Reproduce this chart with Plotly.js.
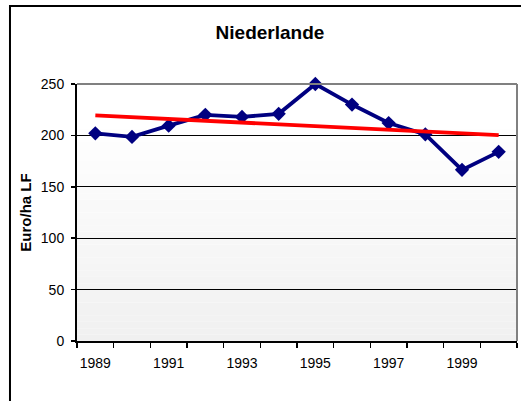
<!DOCTYPE html>
<html>
<head>
<meta charset="utf-8">
<script src="https://cdn.plot.ly/plotly-3.0.1.min.js"></script>
<style>
  html, body { margin: 0; padding: 0; background: #ffffff; }
  #chart { width: 521px; height: 401px; }
</style>
</head>
<body>
<div id="chart"></div>
<script>
// ---- data ----
var years = [1989, 1990, 1991, 1992, 1993, 1994, 1995, 1996, 1997, 1998, 1999, 2000];
var values = [202, 198.5, 209.5, 220, 218, 221, 250, 230, 212, 201, 166.5, 184];
var trendYears = [1989, 2000];
var trendValues = [219.5, 200.2];
var xTickLabels = ["1989", "1991", "1993", "1995", "1997", "1999"];
var xTickYears = [1989, 1991, 1993, 1995, 1997, 1999];
var chartTitle = "Niederlande";
var yTitle = "Euro/ha LF";

// ---- background gradient strips (plot area) ----
var shapes = [];
var nStrips = 40;
for (var i = 0; i < nStrips; i++) {
  var t = (i + 0.5) / nStrips; // 0 bottom, 1 top
  var g = Math.round(240 + 15 * Math.min(1, t / 0.85));
  shapes.push({
    type: 'rect', xref: 'x domain', yref: 'y domain',
    x0: 0, x1: 1, y0: i / nStrips, y1: (i + 1) / nStrips,
    fillcolor: 'rgb(' + g + ',' + g + ',' + g + ')',
    line: { width: 0 }, layer: 'below'
  });
}
// plot-area top & right border (gray)
shapes.push({ type: 'line', xref: 'paper', yref: 'paper', x0: 0, x1: 1, y0: 1, y1: 1,
  line: { color: '#808080', width: 2 }, layer: 'above' });
shapes.push({ type: 'line', xref: 'paper', yref: 'paper', x0: 1, x1: 1, y0: 0, y1: 1,
  line: { color: '#808080', width: 2 }, layer: 'above' });
// chart-area outer border (black)
shapes.push({ type: 'rect', xref: 'paper', yref: 'paper',
  x0: -0.1523, x1: 1.3, y0: -0.5, y1: 1.3035,
  line: { color: '#000000', width: 2 }, fillcolor: 'rgba(0,0,0,0)', layer: 'above' });

var traces = [
  {
    x: years, y: values, type: 'scatter', mode: 'lines+markers',
    line: { color: '#000080', width: 3.8 },
    marker: { symbol: 'diamond', size: 11, color: '#000080' },
    hoverinfo: 'x+y', showlegend: false, cliponaxis: false
  },
  {
    x: trendYears, y: trendValues, type: 'scatter', mode: 'lines',
    line: { color: '#ff0000', width: 3.8 },
    hoverinfo: 'skip', showlegend: false
  }
];

var layout = {
  width: 521, height: 401,
  margin: { l: 77, r: 4, t: 84, b: 60, pad: 0 },
  paper_bgcolor: '#ffffff',
  plot_bgcolor: 'rgba(0,0,0,0)',
  font: { family: 'Liberation Sans, Arial, sans-serif', size: 14, color: '#000000' },
  title: {
    text: '<b>' + chartTitle + '</b>',
    font: { family: 'Liberation Sans, Arial, sans-serif', size: 19, color: '#000000' },
    xref: 'paper', x: 0.4386, xanchor: 'center',
    yref: 'container', y: 1 - 32 / 401, yanchor: 'middle'
  },
  xaxis: {
    range: [1988.5, 2000.5],
    tickmode: 'array', tickvals: xTickYears, ticktext: xTickLabels,
    ticks: '', showgrid: false, zeroline: false,
    showline: true, linecolor: '#000000', linewidth: 2,
    ticklabelstandoff: 8,
    tickfont: { size: 14, color: '#000000' },
    minor: { tick0: 1988.5, dtick: 1, ticks: 'outside', ticklen: 5, tickwidth: 1.5,
             tickcolor: '#000000', showgrid: false },
    fixedrange: true
  },
  yaxis: {
    range: [0, 250], dtick: 50, tick0: 0,
    ticks: 'outside', ticklen: 4, tickwidth: 1.5, tickcolor: '#000000',
    showgrid: true, gridcolor: '#000000', gridwidth: 1,
    zeroline: false, showline: true, linecolor: '#000000', linewidth: 2,
    tickfont: { size: 14, color: '#000000' },
    ticklabelstandoff: 4,
    title: { text: '<b>' + yTitle + '</b>', font: { size: 15, color: '#000000' }, standoff: 6 },
    fixedrange: true
  },
  shapes: shapes,
  showlegend: false
};

Plotly.newPlot('chart', traces, layout, { displayModeBar: false, staticPlot: true });
</script>
</body>
</html>
